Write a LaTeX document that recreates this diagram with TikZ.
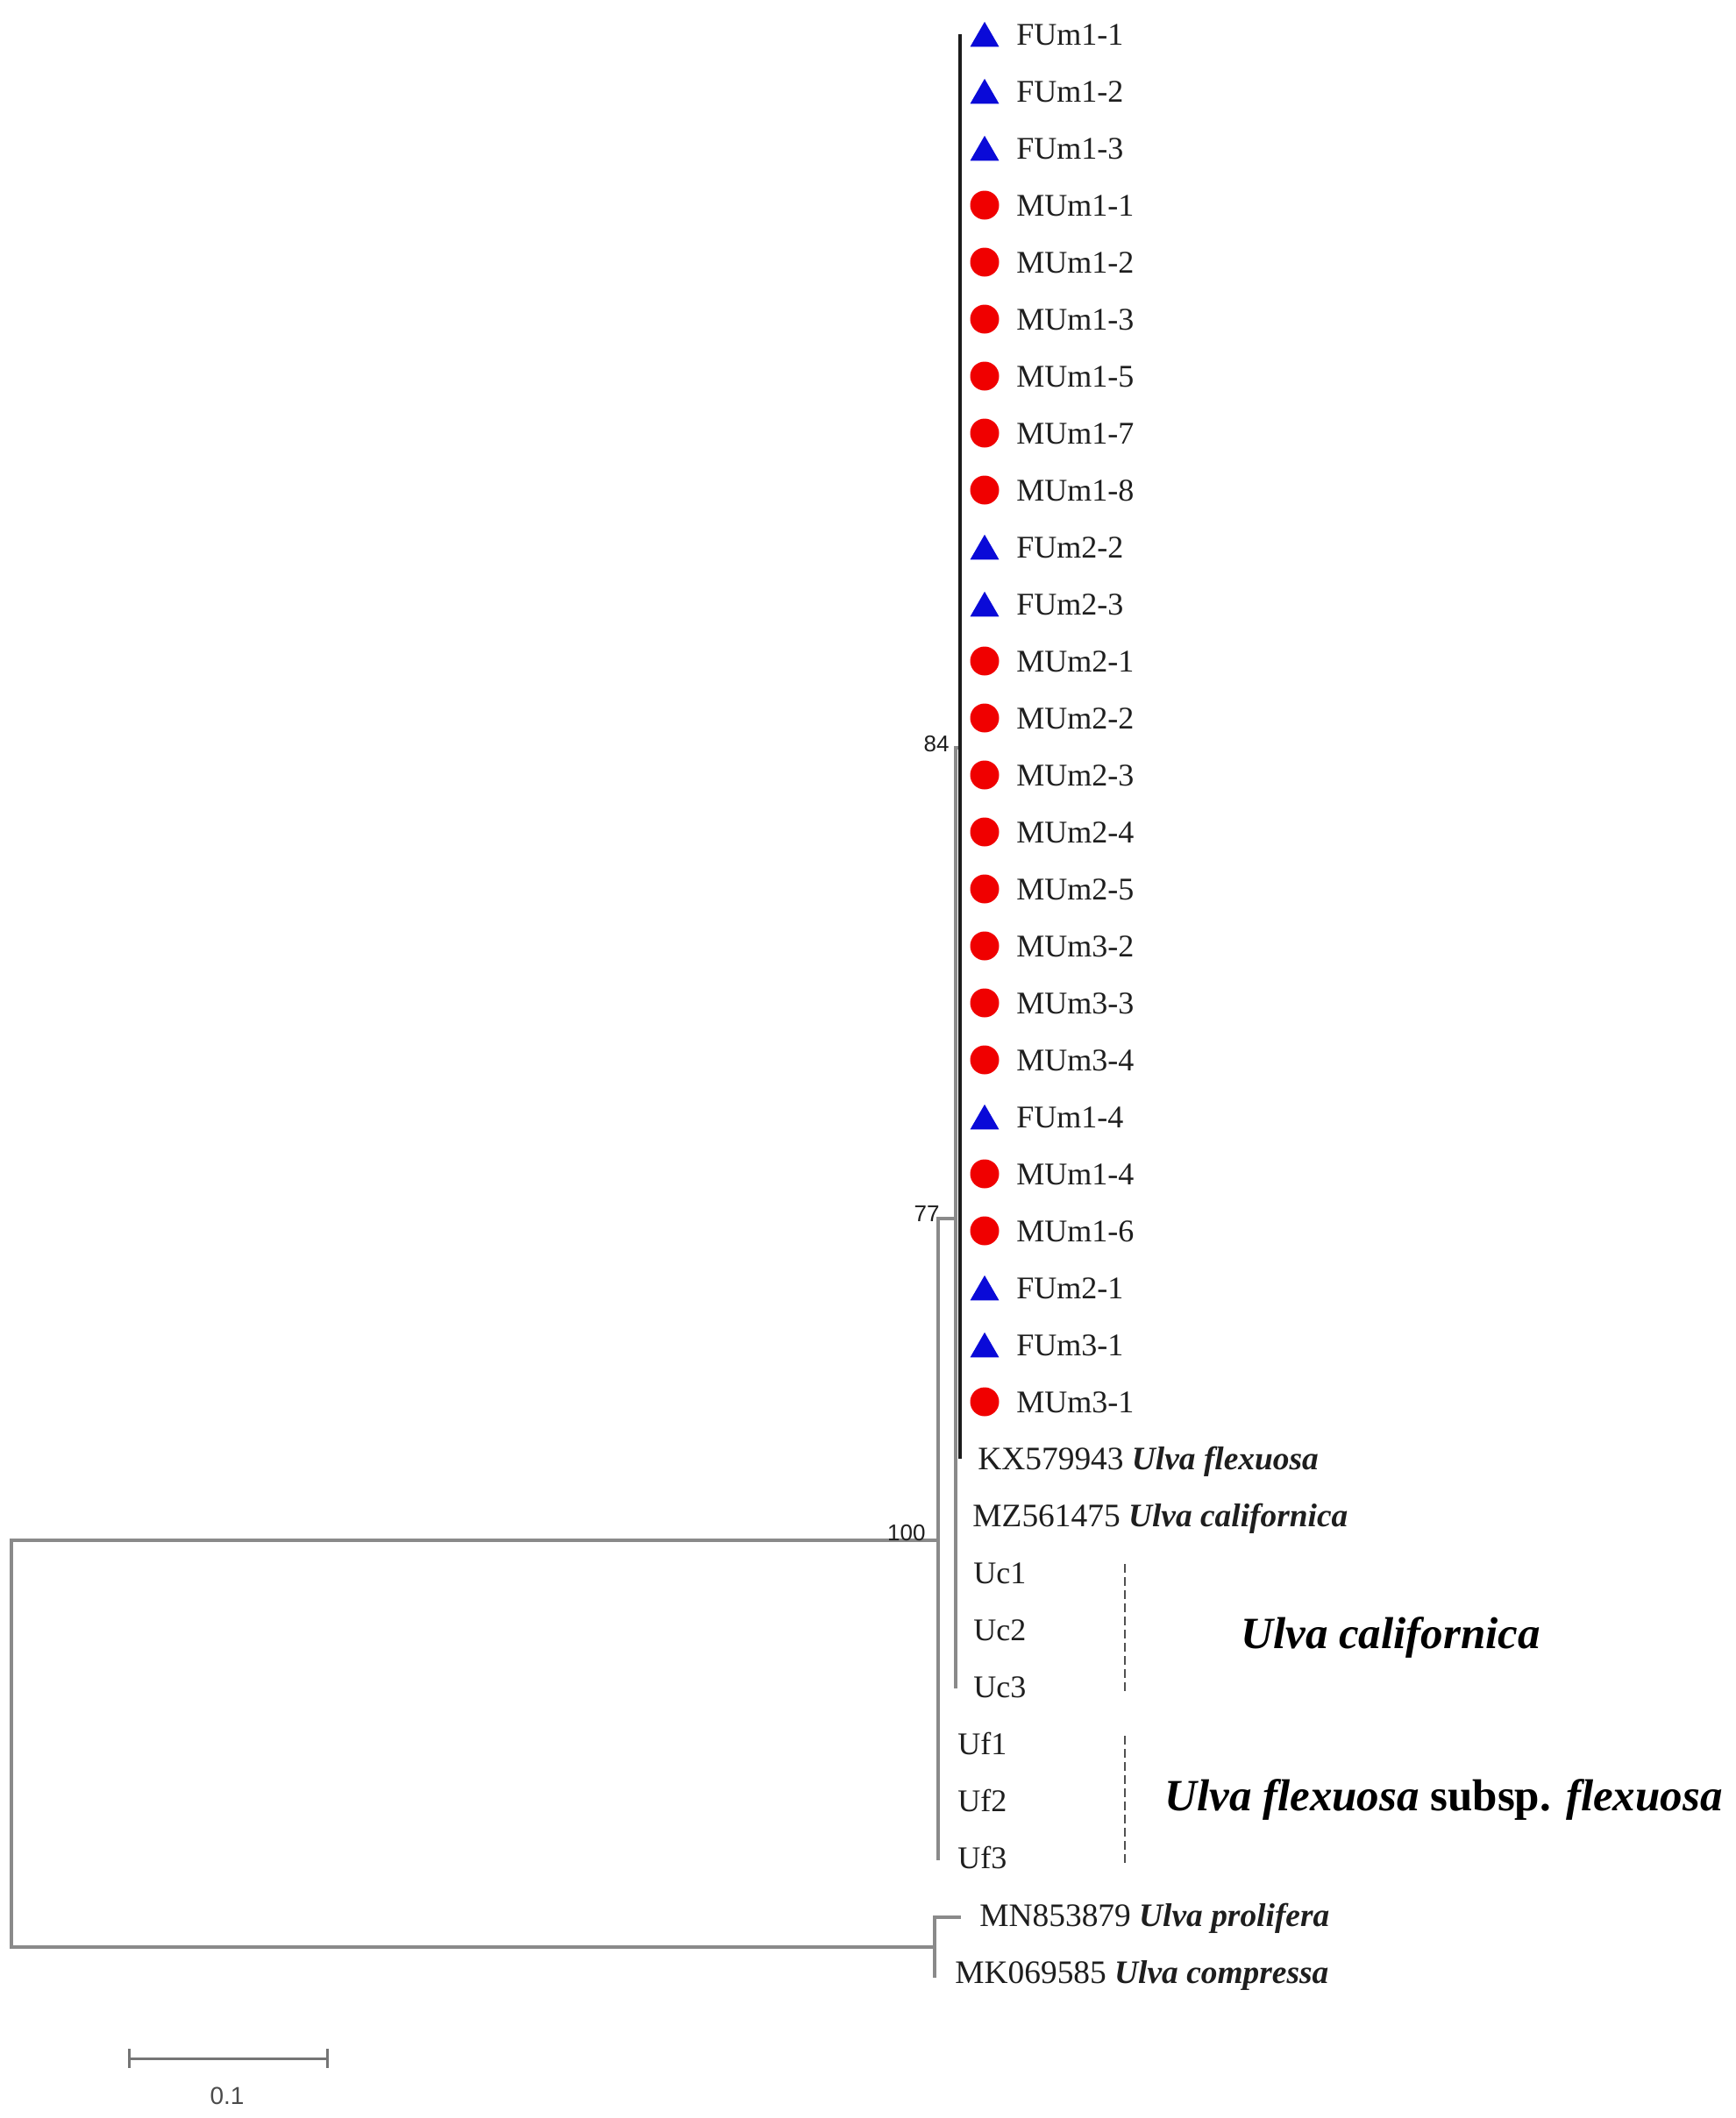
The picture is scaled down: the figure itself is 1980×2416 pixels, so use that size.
\documentclass[tikz,border=0pt]{standalone}
\usepackage{fontspec}
\setmainfont{Liberation Serif}
\newfontfamily\bsfont{Liberation Sans}
\usetikzlibrary{shapes.geometric}
\definecolor{treegrey}{HTML}{8A8A8A}
\definecolor{treeblack}{HTML}{1C1C1C}
\definecolor{labelgrey}{HTML}{1E1E1E}
\definecolor{dashgrey}{HTML}{505050}
\definecolor{markred}{HTML}{F00000}
\definecolor{markblue}{HTML}{0A0AD8}
\begin{document}
\begin{tikzpicture}[x=0.5pt,y=-0.5pt,
  branch/.style={draw=treegrey, line width=2pt, line cap=rect},
  blackbranch/.style={draw=treeblack, line width=1.7pt},
  femmark/.style={regular polygon, regular polygon sides=3, fill=markblue, draw=none,
     inner sep=0pt, minimum size=19pt, yshift=-2.4pt},
  malmark/.style={circle, fill=markred, draw=none, inner sep=0pt, minimum size=16.5pt},
  leaf/.style={anchor=base west, inner sep=0pt, text=labelgrey, font=\fontsize{18}{20}\selectfont},
  refleaf/.style={leaf, font=\fontsize{18.7}{20}\selectfont},
  boot/.style={anchor=south east, inner sep=0pt, text=labelgrey, font=\bsfont\fontsize{13}{15}\selectfont},
  bigname/.style={anchor=base west, inner sep=0pt, text=black, font=\bfseries\fontsize{25.5}{28}\selectfont},
  dashsep/.style={draw=dashgrey, line width=0.8pt, dash pattern=on 5pt off 2.5pt},
  scalebar/.style={draw=treegrey!85!black, line width=1.5pt}
]
\useasboundingbox[fill=white] (0,0) rectangle (1980,2416);

% sample leaves with markers
\foreach \lab/\kind [count=\i from 0] in {FUm1-1/femmark, FUm1-2/femmark, FUm1-3/femmark,
  MUm1-1/malmark, MUm1-2/malmark, MUm1-3/malmark, MUm1-5/malmark, MUm1-7/malmark, MUm1-8/malmark,
  FUm2-2/femmark, FUm2-3/femmark, MUm2-1/malmark, MUm2-2/malmark, MUm2-3/malmark, MUm2-4/malmark,
  MUm2-5/malmark, MUm3-2/malmark, MUm3-3/malmark, MUm3-4/malmark, FUm1-4/femmark, MUm1-4/malmark,
  MUm1-6/malmark, FUm2-1/femmark, FUm3-1/femmark, MUm3-1/malmark} {
  \pgfmathsetmacro\yy{39+65*\i}
  \node[\kind] (m\i) at (1123,\yy) {};
  \node[leaf] (l\i) at (1159,\yy+12) {\lab};
}

% reference leaves
\node[refleaf] (l25) at (1115,1676) {KX579943 \textbf{\textit{Ulva flexuosa}}};
\node[refleaf] (l26) at (1109,1741) {MZ561475 \textbf{\textit{Ulva californica}}};
\node[leaf] (l27) at (1110,1806) {Uc1};
\node[leaf] (l28) at (1110,1871) {Uc2};
\node[leaf] (l29) at (1110,1936) {Uc3};
\node[leaf] (l30) at (1092,2001) {Uf1};
\node[leaf] (l31) at (1092,2066) {Uf2};
\node[leaf] (l32) at (1092,2131) {Uf3};
\node[refleaf] (l33) at (1117,2197) {MN853879 \textbf{\textit{Ulva prolifera}}};
\node[refleaf] (l34) at (1089,2262) {MK069585 \textbf{\textit{Ulva compressa}}};

% tree
\coordinate (t0) at (1095,39);
\coordinate (t25) at (1095,1664);
\coordinate (n84) at (1095,853);
\coordinate (n77top) at (1090,853);
\coordinate (n77) at (1090,1390);
\coordinate (n77bot) at (1090,1924);
\coordinate (n100top) at (1070,1390);
\coordinate (n100) at (1070,1757);
\coordinate (n100bot) at (1070,2120);
\coordinate (nouttop) at (1066,2187);
\coordinate (nout) at (1066,2221);
\coordinate (noutbot) at (1066,2254);
\coordinate (tMN) at (1094,2187);
\coordinate (rtop) at (13,1757);
\coordinate (rbot) at (13,2221);

\draw[branch] (n77top) -- (n77bot);
\draw[branch] (n77top) -- (n84);
\draw[branch] (n100top) -- (n100bot);
\draw[branch] (n100top) -- (n77);
\draw[branch] (nouttop) -- (noutbot);
\draw[branch] (nouttop) -- (tMN);
\draw[branch] (n100) -- (rtop) -- (rbot) -- (nout);
\draw[blackbranch] (t0) -- (t25);

% bootstrap values
\node[boot] (b84) at (1083,858) {84};
\node[boot] (b77) at (1072,1394) {77};
\node[boot] (b100) at (1056,1758) {100};

% group brackets
\coordinate (dc1) at (1283,1784);
\coordinate (dc2) at (1283,1929);
\coordinate (df1) at (1283,1980);
\coordinate (df2) at (1283,2126);
\draw[dashsep] (dc1) -- (dc2);
\draw[dashsep] (df1) -- (df2);
\node[bigname] (gUc) at (1415,1880) {\textit{Ulva californica}};
\node[bigname] (gUf) at (1328,2065) {\textit{Ulva flexuosa} subsp. \textit{flexuosa}};

% scale bar
\coordinate (sb1) at (147,2348);
\coordinate (sb2) at (373,2348);
\draw[scalebar] (sb1) -- (sb2);
\draw[scalebar] (sb1) ++(0,-11) -- ++(0,22);
\draw[scalebar] (sb2) ++(0,-11) -- ++(0,22);
\node[text=labelgrey!80, font=\bsfont\fontsize{14}{16}\selectfont, inner sep=0pt] (sblab) at (259,2391) {0.1};
\end{tikzpicture}
\end{document}
